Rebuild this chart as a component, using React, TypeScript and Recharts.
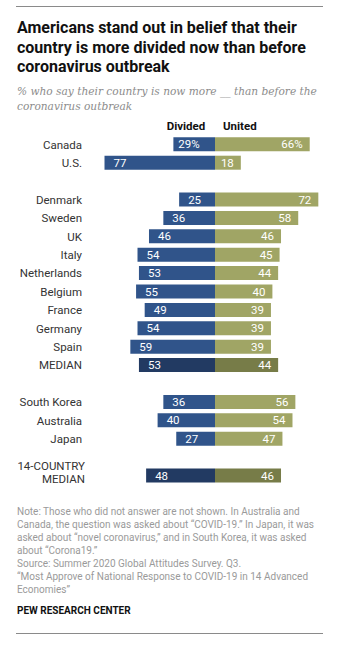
import React from 'react';
import { BarChart, Bar, XAxis, YAxis, Cell, LabelList } from 'recharts';

const countries = ['Canada', 'U.S.', 'gap1', 'Denmark', 'Sweden', 'UK', 'Italy', 'Netherlands', 'Belgium', 'France', 'Germany', 'Spain', 'MEDIAN', 'gap2', 'South Korea', 'Australia', 'Japan', 'gap3', '14-COUNTRY MEDIAN'];
const divided: (number | null)[] = [29, 77, null, 25, 36, 46, 54, 53, 55, 49, 54, 59, 53, null, 36, 40, 27, null, 48];
const united: (number | null)[] = [66, 18, null, 72, 58, 46, 45, 44, 40, 39, 39, 39, 44, null, 56, 54, 47, null, 46];
const medianRows = ['MEDIAN', '14-COUNTRY MEDIAN'];

const titleLines = ['Americans stand out in belief that their', 'country is more divided now than before', 'coronavirus outbreak'];
const subtitleLines = ['% who say their country is now more __ than before the', 'coronavirus outbreak'];
const noteLines = [
  'Note: Those who did not answer are not shown. In Australia and',
  'Canada, the question was asked about \u201cCOVID-19.\u201d In Japan, it was',
  'asked about \u201cnovel coronavirus,\u201d and in South Korea, it was asked',
  'about \u201cCorona19.\u201d',
  'Source: Summer 2020 Global Attitudes Survey. Q3.',
  '\u201cMost Approve of National Response to COVID-19 in 14 Advanced',
  'Economies\u201d',
];

const BLUE = '#30548a';
const BLUE_DARK = '#223a62';
const OLIVE = '#a0a565';
const OLIVE_DARK = '#777c48';
const SANS = 'Roboto, "Liberation Sans", Arial, sans-serif';

const data = countries.map((c, i) => ({
  country: c,
  divided: divided[i] == null ? null : -(divided[i] as number),
  united: united[i],
}));

const CountryTick = (props: any) => {
  const { y, payload } = props;
  const v: string = payload.value;
  if (v.startsWith('gap')) return null;
  if (v === '14-COUNTRY MEDIAN') {
    return (
      <text x={85} y={y} textAnchor="end" fontFamily={SANS} fontSize={11.5} fill="#333">
        <tspan x={85} dy={-5.5}>14-COUNTRY</tspan>
        <tspan x={85} dy={13}>MEDIAN</tspan>
      </text>
    );
  }
  return (
    <text x={82} y={y} dy={4} textAnchor="end" fontFamily={SANS} fontSize={11.5} fill="#333">
      {v}
    </text>
  );
};

const DividedLabel = (props: any) => {
  const { x, y, width, height, value, index } = props;
  if (value == null) return null;
  const left = Math.min(x, x + width);
  const txt = String(Math.abs(value)) + (index === 0 ? '%' : '');
  return (
    <text x={left + 15.5} y={y + height / 2} dy={4} textAnchor="middle" fontFamily={SANS} fontSize={11.5} fill="#fff">
      {txt}
    </text>
  );
};

const UnitedLabel = (props: any) => {
  const { x, y, width, height, value, index } = props;
  if (value == null) return null;
  const right = Math.max(x, x + width);
  const txt = String(value) + (index === 0 ? '%' : '');
  return (
    <text x={right - 7} y={y + height / 2} dy={4} textAnchor="end" fontFamily={SANS} fontSize={11.5} fill="#fff">
      {txt}
    </text>
  );
};

export default function App() {
  return (
    <div style={{ position: 'absolute', left: 0, top: 0, width: 360, height: 645, background: '#fff', overflow: 'hidden' }}>
      <div style={{ position: 'absolute', left: 16, top: 6, width: 307, height: 1, background: '#8a8a8a' }} />
      <div style={{ position: 'absolute', left: 17, top: 18, fontFamily: SANS, fontWeight: 700, fontSize: 16, lineHeight: '19.5px', color: '#111', whiteSpace: 'nowrap' }}>
        {titleLines.map((l, i) => (
          <div key={i}>{l}</div>
        ))}
      </div>
      <div style={{ position: 'absolute', left: 17, top: 84, fontFamily: '"DejaVu Serif", Georgia, serif', fontStyle: 'italic', fontSize: 10.6, lineHeight: '15px', color: '#8c8c8c', whiteSpace: 'nowrap' }}>
        {subtitleLines.map((l, i) => (
          <div key={i}>{l}</div>
        ))}
      </div>
      <div style={{ position: 'absolute', left: 0, top: 0 }}>
        <BarChart
          width={360}
          height={645}
          data={data}
          layout="vertical"
          stackOffset="sign"
          barSize={14}
          margin={{ top: 135.3, bottom: 160.1, left: 0.2, right: 30.2 }}
        >
          <XAxis type="number" domain={[-80, 80]} hide />
          <YAxis type="category" dataKey="country" width={100} axisLine={false} tickLine={false} tick={<CountryTick />} interval={0} />
          <Bar dataKey="divided" stackId="a" isAnimationActive={false}>
            {data.map((d, i) => (
              <Cell key={i} fill={medianRows.includes(d.country) ? BLUE_DARK : BLUE} />
            ))}
            <LabelList dataKey="divided" content={<DividedLabel />} />
          </Bar>
          <Bar dataKey="united" stackId="a" isAnimationActive={false}>
            {data.map((d, i) => (
              <Cell key={i} fill={medianRows.includes(d.country) ? OLIVE_DARK : OLIVE} />
            ))}
            <LabelList dataKey="united" content={<UnitedLabel />} />
          </Bar>
        </BarChart>
      </div>
      <div style={{ position: 'absolute', left: 165, top: 119, width: 42, textAlign: 'center', fontFamily: SANS, fontWeight: 700, fontSize: 11.5, color: '#111' }}>Divided</div>
      <div style={{ position: 'absolute', left: 223, top: 119, fontFamily: SANS, fontWeight: 700, fontSize: 11.5, color: '#111' }}>United</div>
      <div style={{ position: 'absolute', left: 17, top: 505, fontFamily: SANS, fontSize: 10, lineHeight: '13px', color: '#9a9a9a', whiteSpace: 'nowrap' }}>
        {noteLines.map((l, i) => (
          <div key={i}>{l}</div>
        ))}
      </div>
      <div style={{ position: 'absolute', left: 17, top: 605, fontFamily: SANS, fontWeight: 700, fontSize: 10, color: '#111', whiteSpace: 'nowrap' }}>PEW RESEARCH CENTER</div>
      <div style={{ position: 'absolute', left: 16, top: 633, width: 307, height: 1, background: '#8a8a8a' }} />
    </div>
  );
}
